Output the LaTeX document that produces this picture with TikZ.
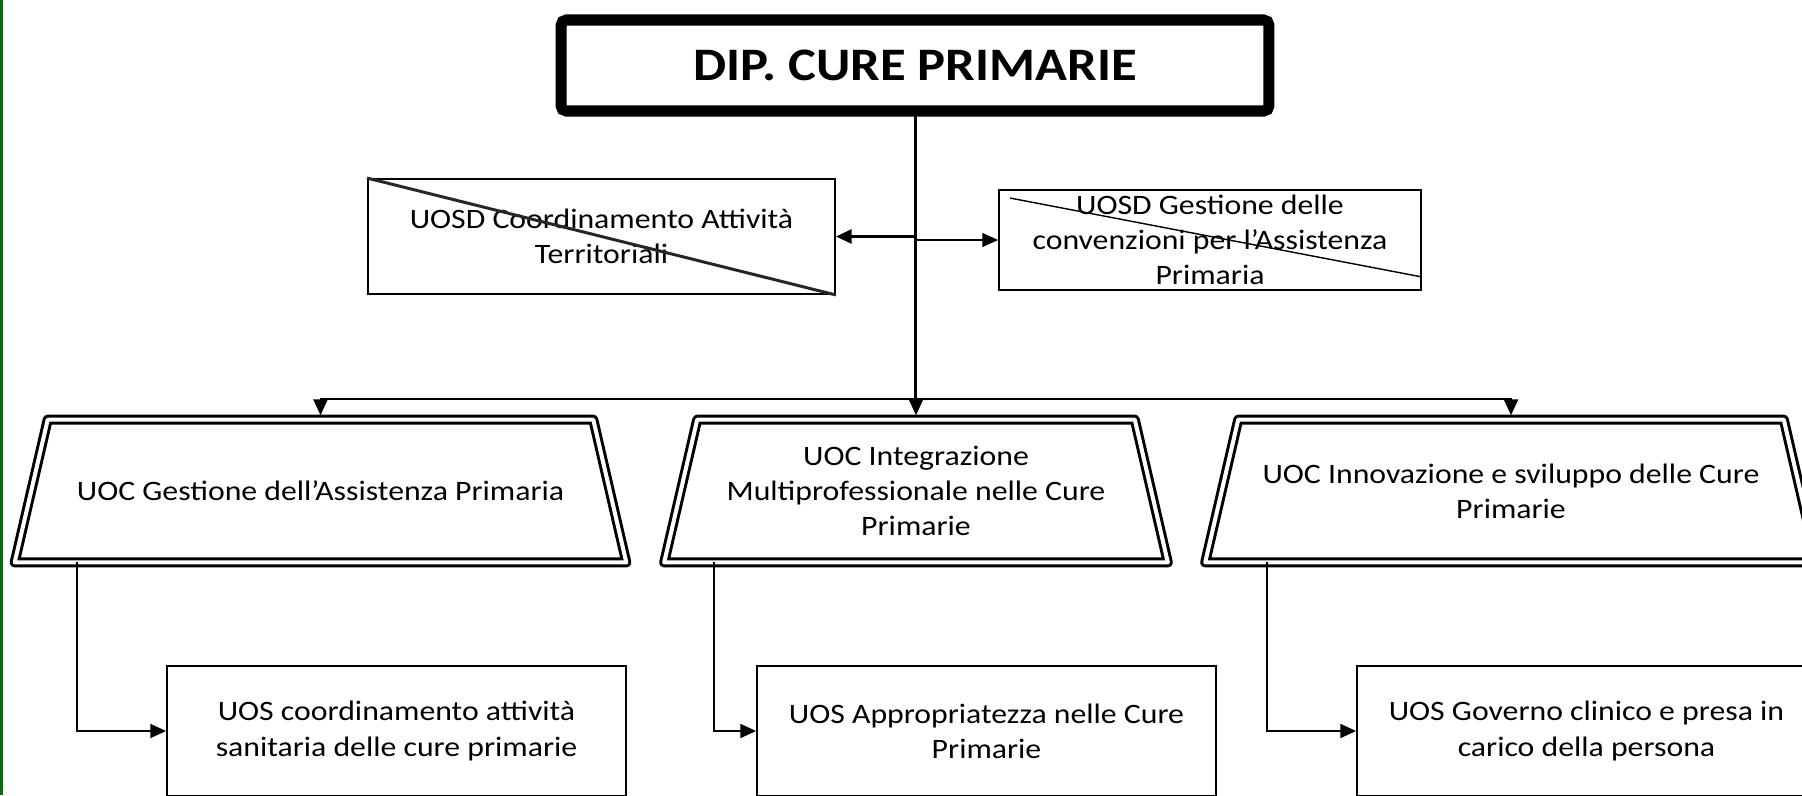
\documentclass[tikz,border=0pt]{standalone}
\usepackage{fontspec}
\setmainfont{Carlito}[FakeStretch=1.13]
\usepackage{xcolor}
\definecolor{edgegreen}{rgb}{0.04,0.42,0.04}
\usetikzlibrary{arrows.meta}
\usetikzlibrary{calc}

\tikzset{
  head/.style={draw, line width=6.3pt, rounded corners=3pt, fill=white, inner sep=0pt,
    minimum width=14.16cm, minimum height=1.82cm, font=\fontsize{26.5}{32}\selectfont\bfseries},
  uosd/.style={draw, line width=1.1pt, align=center, inner sep=0pt, font=\fontsize{16}{20}\selectfont},
  uoc/.style={align=center, minimum height=2.84cm, font=\fontsize{16}{20}\selectfont},
  uocline/.style={double, line width=1.7pt, double distance=2.3pt, line join=round},
  uos/.style={draw, line width=1.1pt, align=center, minimum width=9.18cm, minimum height=2.6cm,
    font=\fontsize{16}{20}\selectfont},
}

\begin{document}
\begin{tikzpicture}[x=0.02cm, y=-0.02cm, >={Triangle[length=9pt,width=8pt]}]

  \useasboundingbox (0,0) rectangle (1802,795);
  \clip (0,0) rectangle (1802,795);

  % left edge
  \fill[edgegreen] (0,0) rectangle (3,795);

  % Department
  \coordinate (bus) at (915,399);
  \draw[line width=1.7pt] (915,100) -- (bus);
  \node[head] (dip) at (915,65.5) {DIP. CURE PRIMARIE};

  % staff units
  \node[uosd, minimum width=9.34cm, minimum height=2.3cm] (coord) at (601.5,236.5) {UOSD Coordinamento Attività\\Territoriali};
  \node[uosd, minimum width=8.44cm, minimum height=2cm] (conv) at (1210,240) {UOSD Gestione delle\\convenzioni per l’Assistenza\\Primaria};
  \draw[line width=1.7pt, black!85] (coord.north west) -- (coord.south east);
  \draw[line width=0.8pt] ([shift={(0.24cm,-0.18cm)}]conv.north west) -- ([yshift=0.28cm]conv.south east);
  \draw[->, line width=1.6pt] (dip.south |- coord.east) -- (coord.east);
  \draw[->, line width=0.6pt] (dip.south |- conv.west) -- (conv.west);

  % complex units
  \node[uoc, minimum width=12.22cm] (gest) at (320.5,491) {UOC Gestione dell’Assistenza Primaria};
  \node[uoc, minimum width=10.06cm] (integ) at (916,491) {UOC Integrazione\\Multiprofessionale nelle Cure\\Primarie};
  \node[uoc, minimum width=12.22cm] (innov) at (1511,491) {UOC Innovazione e sviluppo delle Cure\\Primarie};
  \foreach \n in {gest,integ,innov}
    \draw[uocline] ([xshift=0.66cm]\n.north west) -- ([xshift=-0.66cm]\n.north east) -- (\n.south east) -- (\n.south west) -- cycle;
  \draw[->, line width=1.1pt] (bus) -| ([yshift=2.5pt]gest.north);
  \draw[->, line width=1.1pt] (bus) -| ([yshift=2.5pt]integ.north);
  \draw[->, line width=1.1pt] (bus) -| ([yshift=2.5pt]innov.north);

  % simple units
  \node[uos] (uos1) at (396.5,731) {UOS coordinamento attività\\sanitaria delle cure primarie};
  \node[uos] (uos2) at (986.5,731) {UOS Appropriatezza nelle Cure\\Primarie};
  \node[uos] (uos3) at (1586.5,731) {UOS Governo clinico e presa in\\carico della persona};
  \draw[->, line width=1pt] ([xshift=1.24cm]gest.south west) |- (uos1.west);
  \draw[->, line width=1pt] ([xshift=1cm]integ.south west) |- (uos2.west);
  \draw[->, line width=1pt] ([xshift=1.24cm]innov.south west) |- (uos3.west);

\end{tikzpicture}
\end{document}
